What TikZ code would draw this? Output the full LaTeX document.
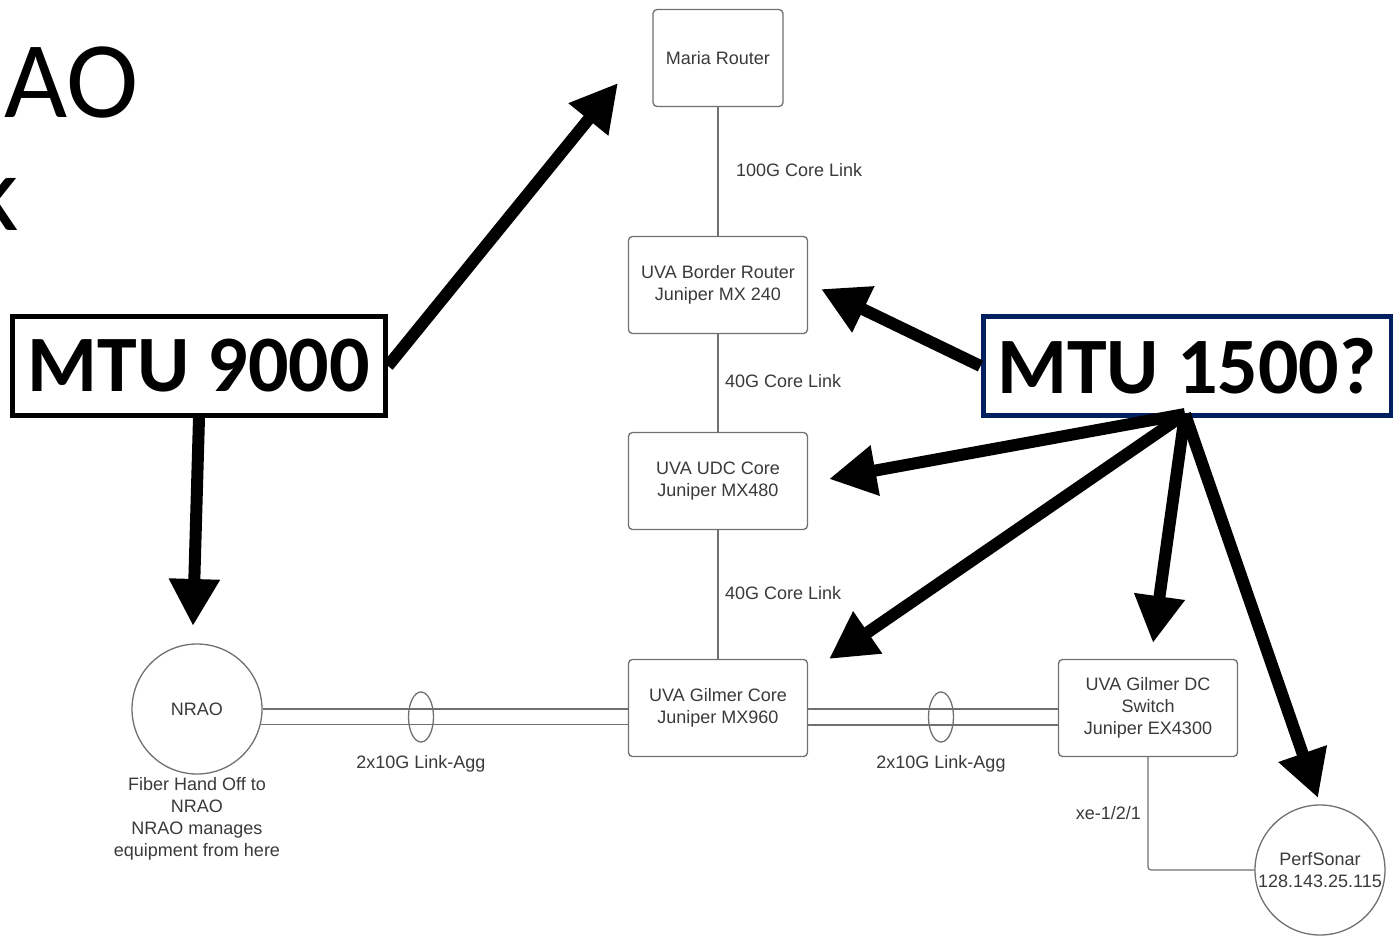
\documentclass[tikz,border=0pt]{standalone}
\usepackage{fontspec}
\setmainfont{Liberation Sans}
\newfontfamily\calfont{Carlito}
\usetikzlibrary{arrows.meta,shapes.geometric}
\definecolor{boxgray}{RGB}{112,112,112}
\definecolor{txtgray}{RGB}{58,58,58}
\definecolor{mtunavy}{RGB}{0,32,96}
\begin{document}
\begin{tikzpicture}[x=1pt,y=-1pt,
  lbl/.style={text=txtgray,font=\fontsize{18}{22}\selectfont,align=center,inner sep=0pt},
  dev/.style={lbl,draw=boxgray,line width=1.3pt,rounded corners=4pt,minimum height=97pt,minimum width=179pt},
  site/.style={lbl,draw=boxgray,line width=1.3pt,circle,minimum size=130pt},
  wire/.style={draw=boxgray,line width=1.2pt},
  agg/.style={ellipse,draw=boxgray,line width=1.3pt,minimum width=25pt,minimum height=50pt,inner sep=0pt},
  mtubox/.style={draw=black,line width=5pt,minimum height=99pt,inner sep=0pt,
    font=\calfont\bfseries\fontsize{80}{80}\selectfont},
  bigarrow/.style={line width=12pt,-{Triangle[length=47pt,width=48pt]}}]
\useasboundingbox (0,0) rectangle (1393,937);
\fill[white] (0,0) rectangle (1393,937);

% slide title fragments
\node[anchor=base west,inner sep=0pt,font=\calfont\fontsize{109}{109}\selectfont] (ttlA) at (4,117) {AO};
\node[anchor=base east,inner sep=0pt,font=\calfont\fontsize{109}{109}\selectfont] (ttlK) at (19,230) {k};

% devices
\node[dev,minimum width=130pt] (maria) at (718,58) {Maria Router};
\node[dev] (border) at (718,285) {UVA Border Router\\Juniper MX 240};
\node[dev] (udc) at (718,481) {UVA UDC Core\\Juniper MX480};
\node[dev] (gcore) at (718,708) {UVA Gilmer Core\\Juniper MX960};
\node[dev] (gdc) at (1148,708) {UVA Gilmer DC\\Switch\\Juniper EX4300};
\node[site] (nrao) at (197,709) {NRAO};
\node[site] (ps) at (1320,870) {PerfSonar\\128.143.25.115};
\node[lbl] (nraonote) at (197,819) {Fiber Hand Off to\\NRAO\\NRAO manages\\equipment from here};

% core links
\draw[wire] (maria) -- (border);
\draw[wire] (border) -- (udc);
\draw[wire] (udc) -- (gcore);
\node[lbl,anchor=west] (l100) at (736,170) {100G Core Link};
\node[lbl,anchor=west] (l40a) at (725,381) {40G Core Link};
\node[lbl,anchor=west] (l40b) at (725,593) {40G Core Link};

% link aggregations
\draw[wire] (nrao.east) -- (nrao.east -| gcore.west);
\draw[wire] (nrao.-14) -- (nrao.-14 -| gcore.west);
\node[agg] (agg1) at (421,717) {};
\node[lbl] (lagg1) at (421,764) {2x10G Link-Agg};
\draw[wire] (gcore.east |- 0,709) -- (gdc.west |- 0,709);
\draw[wire] (gcore.east |- 0,725) -- (gdc.west |- 0,725);
\node[agg] (agg2) at (941,717) {};
\node[lbl] (lagg2) at (941,764) {2x10G Link-Agg};

% switch to perfsonar
\draw[wire,rounded corners=3pt] (gdc.south) |- (ps.west);
\node[lbl,anchor=east] (lxe) at (1141,813) {xe-1/2/1};

% MTU callouts
\node[mtubox,minimum width=373pt] (m9000) at (199,366) {MTU 9000};
\node[mtubox,draw=mtunavy,minimum width=408pt] (m1500) at (1187,366) {MTU 1500?};

\coordinate (t1) at (618,83);
\coordinate (t2) at (193,626);
\coordinate (t3) at (821,289);
\coordinate (t4) at (829,479);
\coordinate (t5) at (829,659);
\coordinate (t6) at (1153,643);
\coordinate (t7) at (1318,798);
\coordinate (fan) at (1185,414);

\draw[bigarrow] (m9000.east) -- (t1);
\draw[bigarrow] (m9000.south) -- (t2);
\draw[bigarrow] (m1500.west) -- (t3);
\draw[bigarrow] (fan) -- (t4);
\draw[bigarrow] (fan) -- (t5);
\draw[bigarrow] (fan) -- (t6);
\draw[bigarrow] (fan) -- (t7);
\end{tikzpicture}
\end{document}
